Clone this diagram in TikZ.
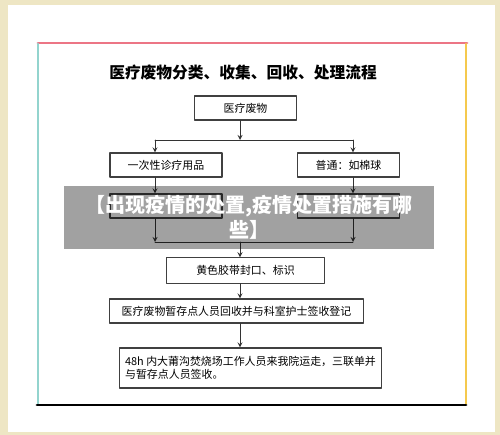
\documentclass[tikz,border=0pt]{standalone}
\usepackage{fontspec}
\newfontfamily\cjk{Noto Sans CJK SC}
\usetikzlibrary{positioning}
\definecolor{paper}{HTML}{EEE6C4}
\definecolor{topline}{HTML}{EC7585}
\definecolor{leftline}{HTML}{93D4CE}
\definecolor{rightline}{HTML}{F5C94E}
\definecolor{baseline}{HTML}{7F8EE2}
\begin{document}
\begin{tikzpicture}[x=0.75pt, y=-0.75pt, line cap=round, line join=round, >=stealth,
  box/.style={draw=black!75, line width=0.8pt, inner sep=0pt, minimum height=18pt, font=\cjk\fontsize{8.2}{10}\selectfont},
  link/.style={draw=black!80, line width=0.7pt}]
\useasboundingbox (0,0) rectangle (500,435);
\fill[paper] (0,0) rectangle (500,435);
\fill[white] (8,5) rectangle (495,432);
% coloured frame
\draw[topline, line width=2.2pt] (38,43) -- (467,43);
\draw[leftline, line width=2.2pt] (38,44) -- (38,404);
\draw[rightline, line width=2.2pt] (466,44) -- (466,404);
\draw[baseline, line width=2.2pt] (37,405) -- (466,405);

\node[font=\cjk\bfseries\fontsize{11.8}{14}\selectfont] (title) at (243,73) {医疗废物分类、收集、回收、处理流程};

\node[box, minimum width=77pt] (waste) at (245.5,108) {医疗废物};
\node[box, minimum width=84pt] (single) at (166,165) {一次性诊疗用品};
\node[box, minimum width=77pt] (common) at (348.5,165) {普通：如棉球};
\node[box, minimum width=84pt] (singleB) at (166,206) {};
\node[box, minimum width=77pt] (commonB) at (348.5,206) {};
\node[box, minimum width=119pt, minimum height=19pt] (seal) at (245.5,270.5) {黄色胶带封口、标识};
\node[box, minimum width=190pt] (store) at (236.5,311) {医疗废物暂存点人员回收并与科室护士签收登记};
\node[box, minimum width=197pt, minimum height=30pt, align=left] (burn) at (250.5,368)
  {48h 内大莆沟焚烧场工作人员来我院运走，三联单并\\与暂存点人员签收。};

% split and join
\coordinate (split) at (240,140);
\coordinate (sl) at (155,140);
\coordinate (sr) at (353,140);
\coordinate (jl) at (155,242);
\coordinate (jr) at (353,242);
\coordinate (join) at (240,242);
\draw[link,->] (split |- waste.south) -- (split);
\draw[link] (sl) -- (sr);
\draw[link,->] (sl) -- (sl |- single.north);
\draw[link,->] (sr) -- (sr |- common.north);
\draw[link,->] (sl |- single.south) -- (sl |- singleB.north);
\draw[link,->] (sr |- common.south) -- (sr |- commonB.north);
\draw[link,->] (sl |- singleB.south) -- (jl);
\draw[link,->] (sr |- commonB.south) -- (jr);
\draw[link] (jl) -- (jr);
\draw[link,->] (join) -- (join |- seal.north);
\draw[link,->] (join |- seal.south) -- (join |- store.north);
\draw[link,->] (join |- store.south) -- (join |- burn.north);

\node[fill=black, fill opacity=0.37, text opacity=1, text=white, inner sep=0pt,
  minimum width=277.5pt, minimum height=47pt, align=center,
  font=\cjk\bfseries\fontsize{15}{18.75}\selectfont] (band) at (249,217.5)
  {【出现疫情的处置,疫情处置措施有哪\\些】};
\end{tikzpicture}
\end{document}
